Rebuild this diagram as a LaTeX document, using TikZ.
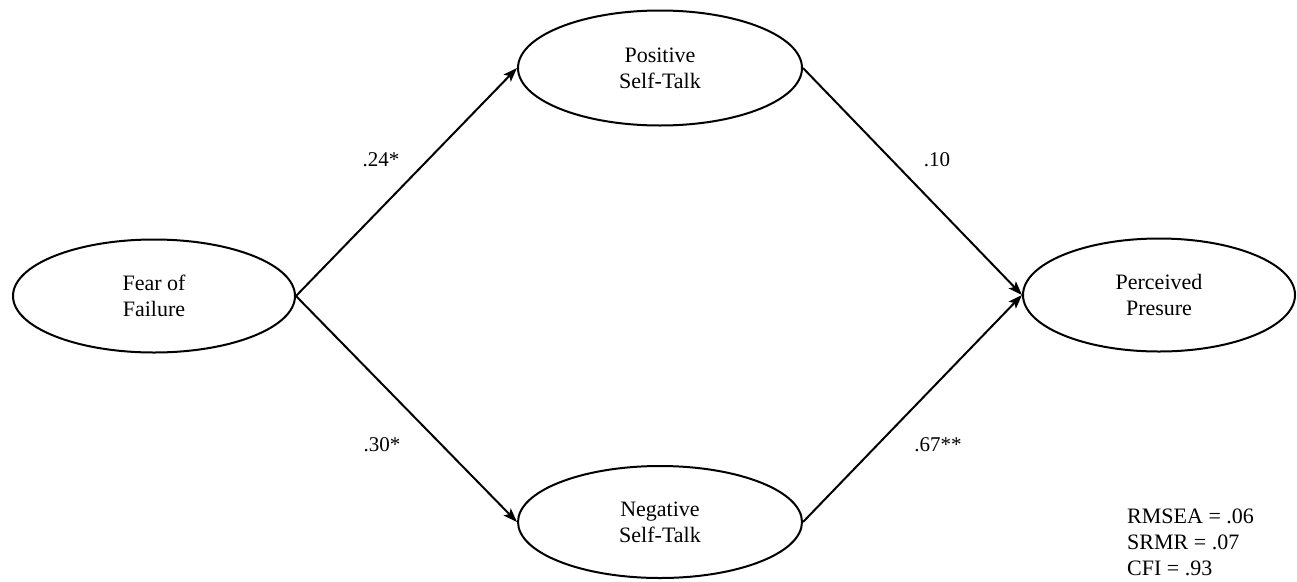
\documentclass[tikz,border=0pt]{standalone}
\usepackage{fontspec}
\setmainfont{Liberation Serif}
\usetikzlibrary{shapes.geometric,arrows.meta}
\begin{document}
\begin{tikzpicture}[x=1pt,y=-1pt,
  latent/.style={ellipse,draw=black,line width=2pt,inner sep=0pt,align=center,
    font=\fontsize{22}{26}\selectfont},
  path/.style={line width=2pt,-{Stealth[length=14pt,width=10pt,inset=3pt]}},
  coef/.style={font=\fontsize{21}{24}\selectfont,inner sep=0pt},
  fit/.style={font=\fontsize{22}{26}\selectfont,align=left,anchor=north west,inner sep=0pt}]
\useasboundingbox[fill=white] (0,0) rectangle (1297,581);
\node[latent,minimum width=282pt,minimum height=113pt] (fear) at (154,296) {Fear of\\Failure};
\node[latent,minimum width=284pt,minimum height=115pt] (pos) at (660,68) {Positive\\Self-Talk};
\node[latent,minimum width=284pt,minimum height=112pt] (neg) at (660,522) {Negative\\Self-Talk};
\node[latent,minimum width=272pt,minimum height=113pt] (pp) at (1159,295) {Perceived\\Presure};
\draw[path] (fear.east) -- (pos.west);
\draw[path] (fear.east) -- (neg.west);
\draw[path] (pos.east) -- (pp.west);
\draw[path] (neg.east) -- (pp.west);
\node[coef] (c1) at (381,160) {.24*};
\node[coef] (c2) at (382,445) {.30*};
\node[coef] (c3) at (937,160) {.10};
\node[coef] (c4) at (938,445) {.67**};
\node[fit] (fitidx) at (1127,509) {RMSEA = .06\\SRMR = .07\\CFI = .93};
\end{tikzpicture}
\end{document}
